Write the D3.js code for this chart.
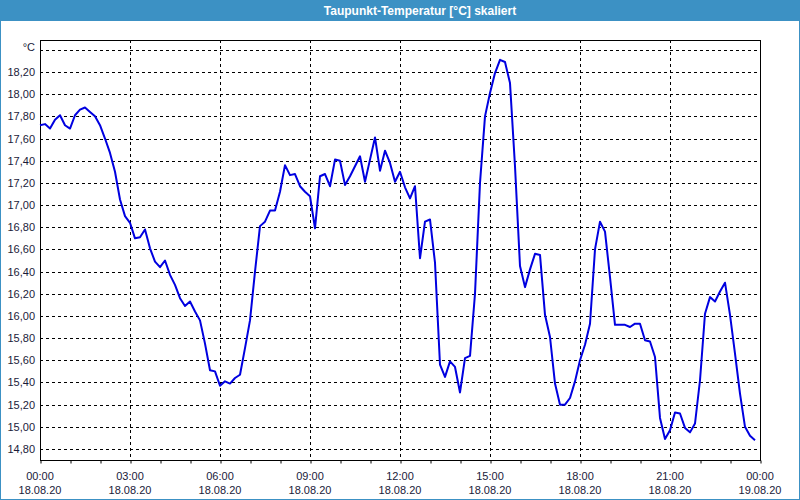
<!DOCTYPE html>
<html><head><meta charset="utf-8">
<script src="https://cdn.jsdelivr.net/npm/d3@7"></script>
<style>
html,body{margin:0;padding:0;background:#fff;}
svg{display:block;font-family:"Liberation Sans",Arial,sans-serif;}
</style></head>
<body>
<svg id="c" width="800" height="500"></svg>
<script>
const title = "Taupunkt-Temperatur [°C] skaliert";
const unitLabel = "°C";
const startDate = [2020, 7, 18];
const stepMinutes = 10;
const values = [
17.72,17.73,17.69,17.77,17.81,17.72,17.69,17.81,17.86,17.88,17.84,17.80,
17.72,17.60,17.47,17.30,17.05,16.90,16.84,16.70,16.71,16.78,16.61,16.49,
16.44,16.50,16.37,16.28,16.16,16.09,16.13,16.04,15.96,15.75,15.51,15.50,
15.37,15.41,15.39,15.44,15.47,15.71,15.96,16.40,16.81,16.85,16.95,16.95,
17.12,17.36,17.27,17.28,17.17,17.12,17.08,16.79,17.26,17.28,17.17,17.41,
17.40,17.18,17.26,17.35,17.44,17.21,17.41,17.61,17.31,17.49,17.38,17.21,
17.30,17.16,17.06,17.17,16.52,16.85,16.87,16.48,15.56,15.45,15.59,15.54,
15.31,15.62,15.64,16.20,17.20,17.80,18.01,18.19,18.31,18.29,18.10,17.35,
16.45,16.26,16.42,16.56,16.55,16.01,15.81,15.39,15.20,15.20,15.26,15.41,
15.60,15.74,15.93,16.60,16.85,16.76,16.35,15.92,15.92,15.92,15.90,15.93,
15.93,15.78,15.77,15.63,15.08,14.89,14.97,15.13,15.12,14.99,14.95,15.03,
15.42,16.02,16.17,16.13,16.22,16.30,16.01,15.66,15.30,15.00,14.92,14.88
];
const yTicks = [14.8,15.0,15.2,15.4,15.6,15.8,16.0,16.2,16.4,16.6,16.8,17.0,17.2,17.4,17.6,17.8,18.0,18.2];
const yUnitTick = 18.4;
const xTickHours = [0,3,6,9,12,15,18,21,24];

const svg = d3.select("#c");
const W = 800, H = 500;
const L = 40, R = 760, T = 40, B = 460;

// window frame
svg.append("rect").attr("x",0.5).attr("y",0.5).attr("width",W-1).attr("height",H-1)
  .attr("fill","#fff").attr("stroke","#3c91c4").attr("stroke-width",1);
svg.append("rect").attr("x",0).attr("y",0).attr("width",W).attr("height",21).attr("fill","#3c91c4");
svg.append("text").attr("x",420).attr("y",14.5).attr("text-anchor","middle")
  .attr("fill","#fff").attr("font-weight","bold").attr("font-size",12).text(title);

const t0 = new Date(startDate[0], startDate[1], startDate[2], 0, 0);
const t1 = d3.timeDay.offset(t0, 1);
const x = d3.scaleTime().domain([t0, t1]).range([L, R]);
const y = d3.scaleLinear().domain([14.8, 18.2]).range([449, 72]);

const data = values.map((v,i)=>({t: d3.timeMinute.offset(t0, i*stepMinutes), v}));

// horizontal grid
const g = svg.append("g");
g.selectAll(".hg").data(yTicks.concat([yUnitTick])).join("line")
  .attr("x1",L).attr("x2",R)
  .attr("y1",d=>Math.round(y(d))+0.5).attr("y2",d=>Math.round(y(d))+0.5)
  .attr("stroke","#000").attr("stroke-dasharray","3,3").attr("stroke-width",1);
// vertical grid
g.selectAll(".vg").data(xTickHours.slice(1,-1)).join("line")
  .attr("x1",d=>Math.round(x(d3.timeHour.offset(t0,d)))+0.5)
  .attr("x2",d=>Math.round(x(d3.timeHour.offset(t0,d)))+0.5)
  .attr("y1",T).attr("y2",B)
  .attr("stroke","#000").attr("stroke-dasharray","3,3").attr("stroke-width",1);

// x axis ticks (hourly)
const xAxis = d3.axisBottom(x).ticks(d3.timeHour.every(1)).tickSize(3).tickFormat("");
const ax = svg.append("g").attr("transform",`translate(0.5,${B+0.5})`).call(xAxis);
ax.select(".domain").remove();
ax.selectAll("line").attr("stroke","#000");

// x labels
const xl = svg.append("g").attr("font-size",11).attr("fill","#1a1a3a").attr("text-anchor","middle");
xTickHours.forEach(h=>{
  const d = d3.timeHour.offset(t0,h);
  const tx = xl.append("text").attr("x",x(d)).attr("y",480);
  tx.append("tspan").attr("x",x(d)).attr("dy",0).text(d3.timeFormat("%H:%M")(d));
  tx.append("tspan").attr("x",x(d)).attr("y",494).text(d3.timeFormat("%d.%m.%y")(d));
});

// y labels
const fmt = v => d3.format(".2f")(v).replace(".",",");
const yl = svg.append("g").attr("font-size",11).attr("fill","#1a1a3a").attr("text-anchor","end");
yl.selectAll("text").data(yTicks).join("text")
  .attr("x",35).attr("y",d=>y(d)+4).text(fmt);
yl.append("text").attr("x",35).attr("y",y(yUnitTick)+1).text(unitLabel);

// plot border
svg.append("rect").attr("x",L+0.5).attr("y",T+0.5).attr("width",R-L).attr("height",B-T)
  .attr("fill","none").attr("stroke","#000").attr("stroke-width",1);

// line
const line = d3.line().x(d=>x(d.t)).y(d=>y(d.v));
svg.append("path").datum(data).attr("d",line)
  .attr("fill","none").attr("stroke","#0000e0").attr("stroke-width",2).attr("stroke-linejoin","round");
</script>
</body></html>
